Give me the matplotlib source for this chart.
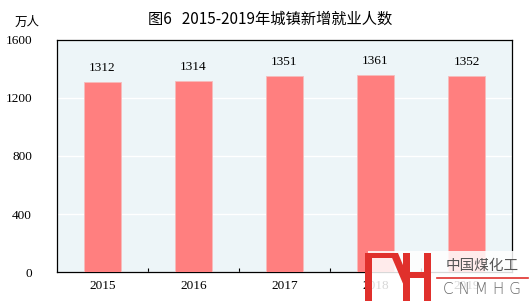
import matplotlib
matplotlib.use("Agg")
import matplotlib.pyplot as plt
from matplotlib.ticker import FixedLocator
from matplotlib.patches import Rectangle, Polygon
from matplotlib.lines import Line2D

plt.rcParams['font.family'] = ['Noto Sans CJK SC', 'DejaVu Sans']

years = ["2015", "2016", "2017", "2018", "2019"]
values = [1312, 1314, 1351, 1361, 1352]
yticks = [0, 400, 800, 1200, 1600]

BAR = "#ff7f7f"
BG = "#edf5f8"
W, H = 530, 303

fig = plt.figure(figsize=(5.3, 3.03), dpi=100)
ax = fig.add_axes([0.1075, 0.1023, 0.8585, 0.7657])
ax.set_facecolor(BG)

x = list(range(len(years)))
ax.bar(x, values, width=0.4, color=BAR, edgecolor="#f6bcbc", linewidth=0.6, zorder=3)
for xi, v in zip(x, values):
    ax.text(xi, v + 55, str(v), ha="center", va="bottom", fontsize=9.5,
            family=["Liberation Serif", "DejaVu Serif"])

ax.set_xlim(-0.5, 4.5)
ax.set_ylim(0, 1600)
ax.set_yticks(yticks)
ax.set_yticklabels([str(t) for t in yticks], family=["Liberation Serif"], fontsize=9.5)
ax.tick_params(axis="y", length=0, pad=18)
ax.set_xticks(x)
ax.set_xticklabels(years, family=["Liberation Serif"], fontsize=9.5)
ax.tick_params(axis="x", which="major", length=0, pad=6)
ax.xaxis.set_minor_locator(FixedLocator([0.5, 1.5, 2.5, 3.5]))
ax.tick_params(axis="x", which="minor", direction="in", length=3, width=0.8)
ax.grid(axis="y", color="white", lw=1, zorder=1)
for s in ax.spines.values():
    s.set_linewidth(0.9)
    s.set_color("black")

fig.text(0.51, 0.937, "图6   2015-2019年城镇新增就业人数", ha="center", va="center", fontsize=11)
fig.text(0.051, 0.927, "万人", ha="center", va="center", fontsize=9)

# watermark logo (bottom right)
def P(px, py):
    return (px / W, 1 - py / H)

fig.add_artist(Rectangle(P(368, 303), 162 / W, 52 / H, transform=fig.transFigure,
                         facecolor="white", alpha=0.85, edgecolor="none", zorder=5))
red = "#e0302c"
for (x0, y0, x1, y1) in [(365, 253, 372, 301), (365, 253, 398, 258),
                         (403, 253, 410, 301), (424, 253, 431, 301), (403, 272, 431, 278)]:
    fig.add_artist(Rectangle(P(x0, y1), (x1 - x0) / W, (y1 - y0) / H,
                             transform=fig.transFigure, facecolor=red, edgecolor="none", zorder=6))
fig.add_artist(Polygon([P(390, 253), P(398, 253), P(410, 282), P(404, 286)], closed=True,
                       transform=fig.transFigure, facecolor=red, edgecolor="none", zorder=6))
fig.text(P(482, 266)[0], P(482, 266)[1], "中国煤化工", ha="center", va="center",
         fontsize=10.5, color="#555555", zorder=7)
fig.add_artist(Line2D([437 / W, 528 / W], [1 - 277.5 / H] * 2, transform=fig.transFigure,
                      color=red, lw=1.2, zorder=7))
fig.text(P(482, 290)[0], P(482, 290)[1], "C N M H G", ha="center", va="center",
         fontsize=11, color="#666666", family=["DejaVu Sans"], fontweight="light", zorder=7)

fig.savefig("out.png", dpi=100)
